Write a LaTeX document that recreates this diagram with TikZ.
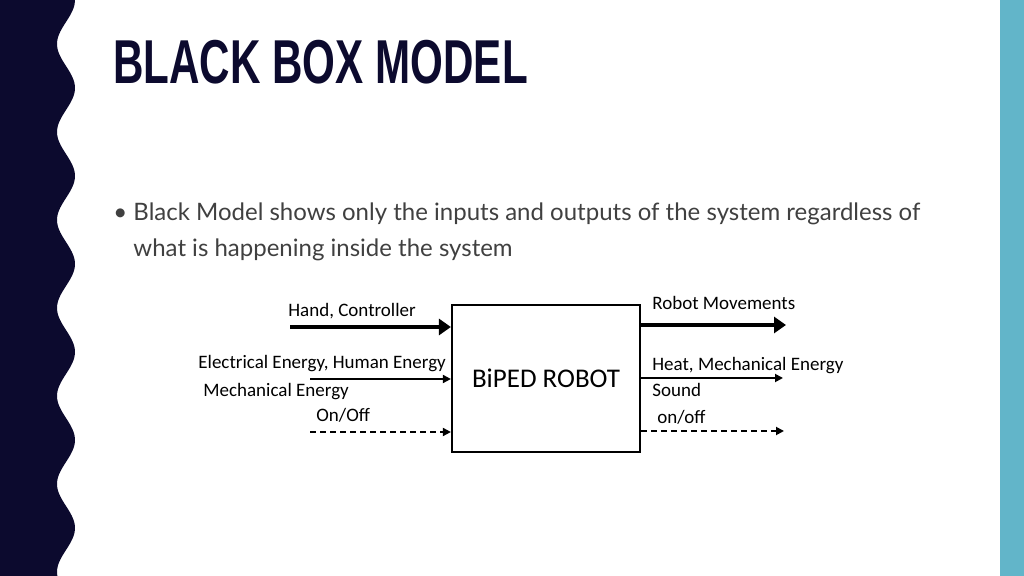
\documentclass[tikz,border=0pt]{standalone}
\usepackage{fontspec}
\setmainfont{Lato}
\newfontfamily\calib{Carlito}
\newfontfamily\titlefont{Liberation Sans}
\usetikzlibrary{arrows.meta,positioning}
\definecolor{navy}{RGB}{12,10,46}
\definecolor{teal}{RGB}{98,181,201}
\definecolor{bodytext}{RGB}{64,64,64}
\tikzset{
  label/.style={font=\calib\fontsize{9.5}{11}\selectfont, inner sep=0pt},
  thickarrow/.style={line width=2.2pt, -{Triangle[length=6pt,width=8pt]}},
  thinarrow/.style={line width=0.9pt, -{Triangle[length=4pt,width=4pt]}},
  dasharrow/.style={line width=0.9pt, dashed, dash pattern=on 3pt off 2pt, -{Triangle[length=4pt,width=4pt]}}
}
\begin{document}
\begin{tikzpicture}[x=0.5pt,y=-0.5pt]
    \useasboundingbox (0,0) rectangle (1024,576);
    % Side bands
    \fill[teal] (1000,0) rectangle (1024,576);
    \fill[navy] (0,0) -- plot[domain=0:576, samples=120, smooth] ({66+9*cos(\x*4.0909)}, \x) -- (0,576) -- cycle;

    % Title and bullet
    \node[anchor=west, inner sep=0pt, text=navy, xscale=0.68, font=\titlefont\bfseries\fontsize{31}{31}\selectfont] (title) at (113,62) {BLACK BOX MODEL};
    \node[anchor=north west, inner sep=0pt, text=bodytext, align=left, font=\fontsize{12}{18}\selectfont] (bullet) at (113,202)
      {\textbullet\ Black Model shows only the inputs and outputs of the system regardless of\\
       \hphantom{\textbullet\ }what is happening inside the system};

    % Black box
    \node[draw, line width=1.1pt, minimum width=94pt, minimum height=73.5pt, inner sep=0pt,
          font=\calib\fontsize{13.5}{13.5}\selectfont] (robot) at (546,378.5) {BiPED ROBOT};

    % Inputs
    \coordinate (in1) at (290,327);
    \coordinate (in2) at (310,379);
    \coordinate (in3) at (310,432);
    \draw[thickarrow] (in1) -- (in1 -| robot.west);
    \draw[thinarrow] (in2) -- (in2 -| robot.west);
    \draw[dasharrow] (in3) -- (in3 -| robot.west);
    \node[label, anchor=west] (hand) at (288,311) {Hand, Controller};
    \node[label, anchor=west] (elec) at (198,364) {Electrical Energy, Human Energy};
    \node[label, anchor=west] (mech) at (203,392) {Mechanical Energy};
    \node[label, anchor=west] (onoffin) at (316,415) {On/Off};

    % Outputs
    \coordinate (out1) at (786,325);
    \coordinate (out2) at (783,378);
    \coordinate (out3) at (784,431);
    \draw[thickarrow] (out1 -| robot.east) -- (out1);
    \draw[thinarrow] (out2 -| robot.east) -- (out2);
    \draw[dasharrow] (out3 -| robot.east) -- (out3);
    \node[label, anchor=west] (moves) at (652,303) {Robot Movements};
    \node[label, anchor=west] (heat) at (652,366) {Heat, Mechanical Energy};
    \node[label, anchor=west] (sound) at (652,390) {Sound};
    \node[label, anchor=west] (onoffout) at (657,417) {on/off};
\end{tikzpicture}
\end{document}
